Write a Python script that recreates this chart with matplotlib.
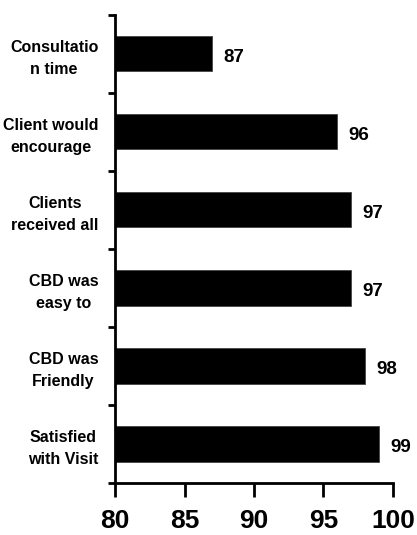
import numpy as np
import matplotlib.pyplot as plt

# data, top to bottom as in the chart
labels = ["Consultatio\nn time", "Client would\nencourage", "Clients\nreceived all",
          "CBD was\neasy to", "CBD was\nFriendly", "Satisfied\nwith Visit"]
values = [87, 96, 97, 97, 98, 99]
xticks = [80, 85, 90, 95, 100]

plt.rcParams['font.family'] = ['Liberation Sans', 'DejaVu Sans']

fig = plt.figure(figsize=(4.17, 5.35), dpi=100)
ax = fig.add_axes([0.2758, 0.0972, 0.6666, 0.875])

pos = np.arange(len(values))[::-1]
ax.barh(pos, values, height=0.45, color='black', edgecolor='#444444', linewidth=0.6, left=0)

for p, v in zip(pos, values):
    ax.text(v + 0.8, p - 0.05, str(v), ha='left', va='center', fontsize=13.5, fontweight='bold')

ax.set_xlim(80, 100)
ax.set_ylim(-0.5, len(values) - 0.5)
ax.set_xticks(xticks)
ax.set_xticklabels([str(t) for t in xticks], fontsize=19, fontweight='bold')

# labels at bar centres, small ticks between categories
ax.set_yticks(pos)
ax.set_yticklabels(labels, fontsize=11.5, fontweight='bold', multialignment='center',
                   linespacing=1.55)
ax.set_yticks(np.arange(-0.5, len(values), 1), minor=True)
ax.tick_params(axis='y', which='major', length=0, pad=12)
ax.tick_params(axis='y', which='minor', length=5, width=2)
ax.tick_params(axis='x', length=10, width=2, pad=9)

for s in ['top', 'right']:
    ax.spines[s].set_visible(False)
for s in ['left', 'bottom']:
    ax.spines[s].set_linewidth(2)

fig.savefig('out.png', dpi=100)
